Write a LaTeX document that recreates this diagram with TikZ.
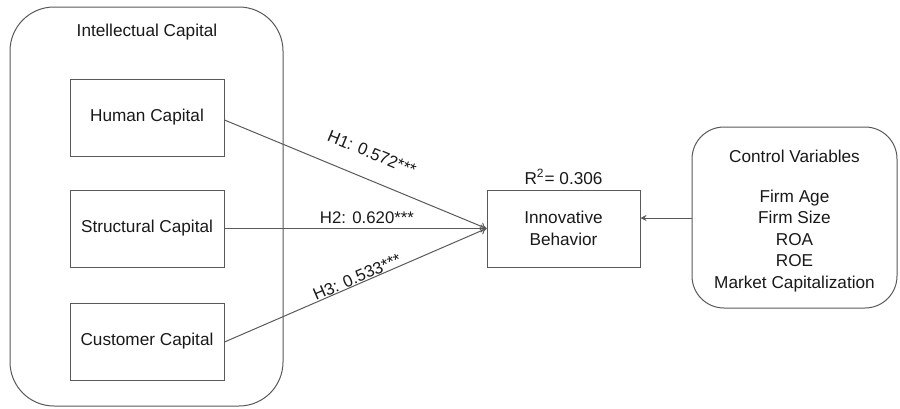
\documentclass[tikz,border=0pt]{standalone}
\usepackage{fontspec}
\setmainfont{Liberation Sans}
\usetikzlibrary{arrows.meta}
\begin{document}
\begin{tikzpicture}[x=0.5pt,y=-0.5pt,
  every node/.style={font=\fontsize{8.6}{10.75}\selectfont, text=black!90, inner sep=0pt},
  box/.style={draw=black!65, line width=0.5pt},
  conn/.style={draw=black!65, line width=0.5pt},
  lbl/.style={font=\fontsize{8.4}{10}\selectfont}]
\useasboundingbox (0,0) rectangle (900,408);
\draw[box, rounded corners=22pt] (10,7) rectangle (283,406);
\node (ic) at (147,32) {Intellectual Capital};
\node[box, minimum width=77pt, minimum height=38.5pt] (hc) at (147,117.5) {Human Capital};
\node[box, minimum width=77pt, minimum height=38.5pt] (sc) at (147,228.5) {Structural Capital};
\node[box, minimum width=77pt, minimum height=38.5pt] (cc) at (147,341.5) {Customer Capital};
\node[box, minimum width=76.5pt, minimum height=38.5pt, align=center] (ib) at (563.5,228.5) {Innovative\\Behavior};
\node (r2) at (563.5,177) {R\textsuperscript{2}= 0.306};
\draw[box, rounded corners=16pt] (692,127) rectangle (897,308);
\node[align=center] (cvt) at (794.5,156) {Control Variables};
\node[align=center] (cvl) at (794.5,241) {Firm Age\\Firm Size\\ROA\\ROE\\Market Capitalization};
\coordinate (cvin) at (692,218);
\coordinate (tgt) at (ib.west);
\draw[conn, -{To[length=3pt,width=4pt]}] (hc.east |- 0,120) -- (tgt);
\draw[conn, -{To[length=3pt,width=4pt]}] (sc.east) -- (tgt);
\draw[conn, -{To[length=3pt,width=4pt]}] (cc.east |- 0,342) -- (tgt);
\draw[conn, -{Stealth[length=3pt,width=3pt]}] (cvin) -- (ib.east |- cvin);
\node[lbl, rotate=-22.5] (h1) at (372,153) {H1: 0.572***};
\node[lbl] (h2) at (367,218) {H2: 0.620***};
\node[lbl, rotate=23.3] (h3) at (357,277) {H3: 0.533***};
\end{tikzpicture}
\end{document}
